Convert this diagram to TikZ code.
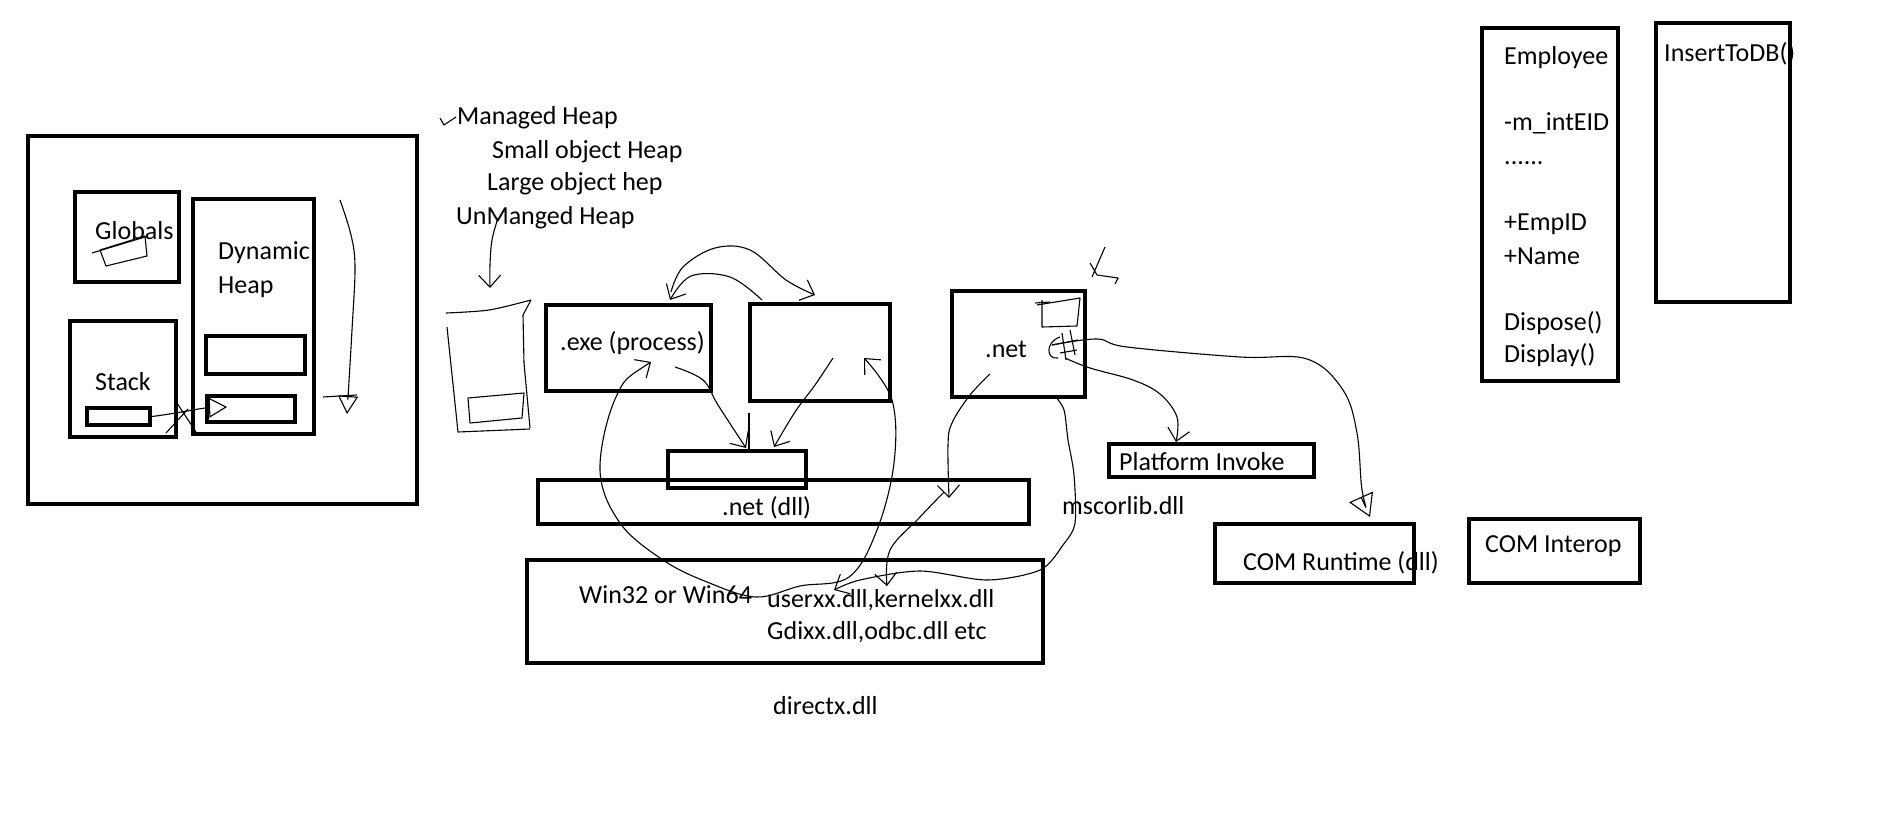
\documentclass[tikz,border=0pt]{standalone}
\usepackage{fontspec}
\setmainfont{Carlito}
\usetikzlibrary{arrows.meta}

\begin{document}
\begin{tikzpicture} [
                x=1pt, y=-1pt,
                box/.style={draw,line width=4.3pt,inner sep=0pt},
                txt/.style={anchor=base west,inner sep=0pt,yshift=-2pt,font=\fontsize{26}{31}\selectfont},
                link/.style={draw,line width=1.1pt,line join=round},
                barb/.style={-{Straight Barb[length=12pt,width=22pt]}},
                open tip/.style={-{Triangle[open,length=18pt,width=20pt]}},
            ]
            \useasboundingbox (0,0) rectangle (1897,821);
            % First we draw the boxes
            \foreach \pos/\w/\h/\name in {
                    {(222.5,320)/388.7/367.7/memory}, {(127,237)/103.7/89.7/globals},
                    {(253.5,316.5)/120.7/234.7/dynheap}, {(255.5,355)/98.7/37.7/heapobj},
                    {(251,409)/87.7/25.7/heapref}, {(123,379)/105.7/115.7/stack},
                    {(118.5,416.5)/62.7/16.7/stackvar}, {(628.5,348)/164.7/85.7/exe},
                    {(820,352.5)/139.7/96.7/proc}, {(1018.5,344)/132.7/105.7/net},
                    {(737,469.5)/137.7/36.7/clr}, {(783.5,502)/490.7/43.7/netdll},
                    {(785,611.5)/515.7/102.7/win}, {(1211.5,460.5)/204.7/32.7/pinvoke},
                    {(1314.5,553.5)/198.7/58.7/comrt}, {(1554.5,551)/170.7/63.7/cominterop},
                    {(1550,204.5)/135.7/352.7/employee}, {(1723,162.5)/133.7/278.7/insertdb}}
                \node[box,minimum width=\w pt,minimum height=\h pt] (\name) at \pos {};
            % Then the texts
            \foreach \pos/\lbl/\name in {
                    {(95,237)/Globals/tglobals}, {(218,257)/Dynamic/tdyn}, {(218,291)/Heap/theap},
                    {(95,388)/Stack/tstack}, {(457,123)/Managed Heap/tmanaged},
                    {(492,157)/Small object Heap/tsoh}, {(487,189)/Large object hep/tloh},
                    {(456,222)/UnManged Heap/tunmanaged}, {(560,348)/.exe (process)/texe},
                    {(985,355)/.net/tnet}, {(722,513)/.net (dll)/tnetdll},
                    {(579,601)/Win32 or Win64/twin}, {(767,605)/userxx.dll,kernelxx.dll/tuser},
                    {(767,637)/Gdixx.dll,odbc.dll etc/tgdi}, {(773,712)/directx.dll/tdirectx},
                    {(1119,468)/Platform Invoke/tpinvoke}, {(1062,512)/mscorlib.dll/tmscorlib},
                    {(1243,568)/COM Runtime (dll)/tcomrt}, {(1485,550)/COM Interop/tcominterop},
                    {(1504,63)/Employee/temp}, {(1504,129)/-m\_intEID/tfield},
                    {(1504,228)/+EmpID/tempid},
                    {(1504,262)/+Name/tname}, {(1504,328)/Dispose()/tdispose},
                    {(1504,360)/Display()/tdisplay}, {(1664,60)/InsertToDB()/tinsert}}
                \node[txt] (\name) at \pos {\lbl};
            \node[txt] (tdots) at (1504,163) {......};
            % Ends of the hand drawn connectors
            \coordinate (heap in) at (227,407);
            \coordinate (scan top) at (340,200);
            \coordinate (scan end) at (347,414);
            \coordinate (unm) at (498,218);
            \coordinate (bucket top) at (490,288);
            \coordinate (exe top) at (671,292);
            \coordinate (proc top) at (815,295);
            \coordinate (proc top2) at (762,300);
            \coordinate (exe top2) at (670,300);
            \coordinate (exe in) at (675,367);
            \coordinate (clr top) at (746,448);
            \coordinate (proc in) at (833,358);
            \coordinate (clr top2) at (774,447);
            \coordinate (exe loop) at (651,362);
            \coordinate (proc loop) at (864,358);
            \coordinate (net in) at (990,374);
            \coordinate (netdll in) at (949,498);
            \coordinate (netdll out) at (944,492);
            \coordinate (user a) at (887,586);
            \coordinate (net out) at (1055,396);
            \coordinate (user b) at (834,590);
            \coordinate (hash a) at (1065,358);
            \coordinate (hash b) at (1052,345);
            \coordinate (pinv top) at (1176,442);
            \coordinate (comrt top) at (1370,517);
            % Connect the boxes
            \path[link,open tip] (stackvar.east) .. controls (180,413) and (200,408) .. (heap in);
            \path[link,-{Triangle[open,length=18pt,width=20pt]}] plot[smooth,tension=0.6]
                coordinates {(scan top) (351,235) (355,267) (352,330) (scan end)};
            \path[link,barb] plot[smooth,tension=0.6]
                coordinates {(unm) (492,240) (490,265) (bucket top)};
            \path[link,barb] plot[smooth,tension=0.6]
                coordinates {(exe top) (683,267) (715,248) (750,250) (786,280) (proc top)};
            \path[link,barb] plot[smooth,tension=0.6]
                coordinates {(proc top2) (730,277) (691,276) (exe top2)};
            \path[link,barb] plot[smooth,tension=0.6]
                coordinates {(exe in) (703,380) (718,405) (clr top)};
            \path[link,barb] plot[smooth,tension=0.6]
                coordinates {(proc in) (815,385) (795,412) (clr top2)};
            \path[link,{Straight Barb[length=12pt,width=22pt]}-{Straight Barb[length=12pt,width=22pt]}]
                plot[smooth,tension=0.6] coordinates {(exe loop) (616,397) (600,470) (620,523)
                (663,560) (707,582) (756,597) (800,586) (849,577) (877,530) (894,463) (892,400) (proc loop)};
            \path[link,barb] plot[smooth,tension=0.6]
                coordinates {(net in) (970,395) (952,423) (948,445) (netdll in)};
            \path[link,barb] plot[smooth,tension=0.6]
                coordinates {(netdll out) (920,517) (890,550) (user a)};
            \path[link,barb] plot[smooth,tension=0.5]
                coordinates {(net out) (1064,410) (1068,440) (1074,475) (1075,523) (1063,545)
                (1040,570) (987,580) (920,571) (860,580) (user b)};
            \path[link,barb] plot[smooth,tension=0.6]
                coordinates {(hash a) (1090,368) (1133,380) (1160,394) (1177,417) (pinv top)};
            \path[link,-{Triangle[open,length=22pt,width=26pt]}] plot[smooth,tension=0.6]
                coordinates {(hash b) (1097,339) (1127,347) (1240,357) (1307,359) (1343,390)
                (1357,433) (1362,490) (comrt top)};
            % Scribbles
            \draw[link] (92,253) -- (145,237);
            \draw[link] (100,250) -- (145,236) -- (147,256) -- (106,266) -- cycle;
            \draw[link] (175,400) -- (196,432) (166,433) -- (188,409);
            \draw[link] (323,397) -- (357,395);
            \draw[link] (440,118) -- (444,125) -- (456,117);
            \draw[link] plot[smooth] coordinates {(446,313) (489,310) (531,300)};
            \draw[link] (447,327) -- (458,432) -- (530,429);
            \draw[link] (531,300) -- (523,315) -- (524,363) -- (530,428);
            \draw[link] (468,398) -- (524,393) -- (522,418) -- (470,423) -- cycle;
            \draw[link] (749,413) -- (749,453);
            \draw[link] (1037,305) -- (1080,298) -- (1077,326) -- (1042,327) -- (1042,300);
            \draw[link] (1035,303) -- (1050,302);
            \draw[link] (1060,337) .. controls (1045,342) and (1046,360) .. (1058,358);
            \draw[link] (1052,345) -- (1078,340) (1060,353) -- (1077,350);
            \draw[link] (1062,333) -- (1066,360) (1070,330) -- (1075,355);
            \draw[link] (1105,247) -- (1092,277) (1090,263) -- (1097,275) -- (1118,278) -- (1115,284);
        \end{tikzpicture}
\end{document}
